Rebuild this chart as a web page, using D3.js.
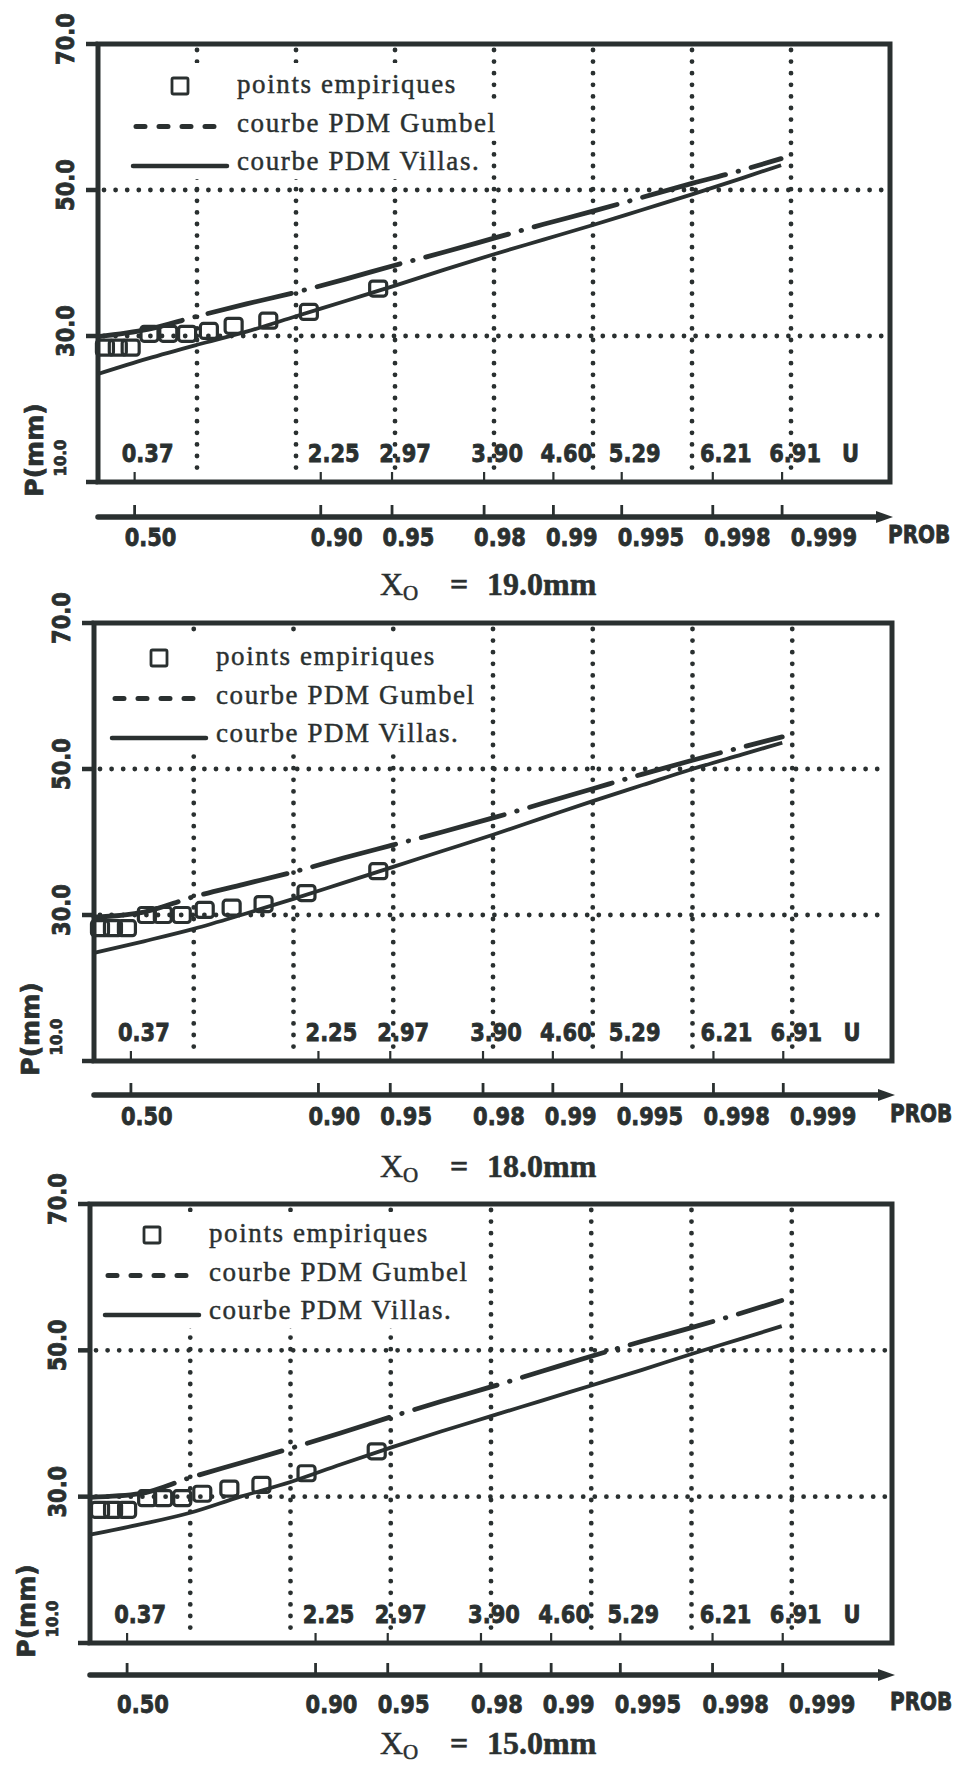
<!DOCTYPE html>
<html>
<head>
<meta charset="utf-8">
<script src="https://cdn.jsdelivr.net/npm/d3@7"></script>
<style>
    body { margin: 0; background: #fff; }
    svg { display: block; }
    .num { font-family: "DejaVu Sans", sans-serif; font-weight: bold; fill: #2a3030; stroke: #2a3030; stroke-width: 0.7px; }
    .leg { font-family: "Liberation Serif", "Times New Roman", serif; fill: #2a3030; stroke: #2a3030; stroke-width: 0.45px; }
    .ttl { font-family: "Liberation Serif", "Times New Roman", serif; fill: #2a3030; stroke: #2a3030; stroke-width: 0.5px; }
</style>
</head>
<body>
<div id="chart"></div>
<script>
const uGrid = [0, 0.5, 1, 1.5, 2, 2.5, 3, 3.5, 4, 4.5, 5, 5.5, 6, 6.5, 6.9];

// X0 = 19.0mm
const gumbel19 = [29.9, 30.9, 32.7, 34.4, 36.0, 37.8, 39.7, 41.5, 43.4, 45.3, 47.1, 49.0, 50.9, 52.7, 54.3];
const villas19 = [24.8, 26.9, 28.8, 30.6, 32.7, 34.8, 36.9, 39.1, 41.2, 43.2, 45.2, 47.3, 49.4, 51.6, 53.4];
const empU19 = [0.07, 0.20, 0.33, 0.52, 0.71, 0.90, 1.12, 1.37, 1.72, 2.13, 2.83];
const empP19 = [28.4, 28.4, 28.4, 30.3, 30.3, 30.3, 30.7, 31.4, 32.1, 33.3, 36.5];

// X0 = 18.0mm
const gumbel18 = [29.7, 30.4, 32.5, 34.2, 35.9, 37.8, 39.6, 41.4, 43.3, 45.3, 47.3, 49.3, 51.2, 53.0, 54.4];
const villas18 = [24.8, 26.4, 28.1, 30.1, 32.2, 34.4, 36.6, 38.8, 41.0, 43.3, 45.6, 47.8, 50.0, 52.0, 53.6];
const empU18 = [0.06, 0.19, 0.33, 0.53, 0.69, 0.88, 1.11, 1.38, 1.70, 2.13, 2.85];
const empP18 = [28.2, 28.2, 28.2, 30.0, 30.0, 30.0, 30.7, 31.0, 31.5, 33.0, 36.0];

// X0 = 15.0mm
const gumbel15 = [29.9, 30.4, 32.6, 34.6, 36.6, 38.7, 40.9, 43.0, 45.0, 47.1, 49.2, 51.2, 53.1, 55.1, 56.8];
const villas15 = [24.8, 26.2, 27.8, 30.0, 32.0, 34.4, 36.7, 38.9, 41.0, 43.1, 45.2, 47.3, 49.5, 51.6, 53.3];
const empU15 = [0.10, 0.23, 0.37, 0.57, 0.73, 0.92, 1.12, 1.39, 1.71, 2.16, 2.86];
const empP15 = [28.2, 28.2, 28.2, 29.8, 29.8, 29.8, 30.4, 31.1, 31.6, 33.2, 36.2];

const uTicks = [0.37, 2.25, 2.97, 3.90, 4.60, 5.29, 6.21, 6.91];
const uLabels = ["0.37", "2.25", "2.97", "3.90", "4.60", "5.29", "6.21", "6.91"];
const probLabels = ["0.50", "0.90", "0.95", "0.98", "0.99", "0.995", "0.998", "0.999"];
const uGridLines = [1, 2, 3, 4, 5, 6, 7];
const pGridLines = [30, 50];
const pTicks = [10, 30, 50, 70];
const legendLabels = ["points empiriques", "courbe PDM Gumbel", "courbe PDM Villas."];
const x0Values = ["19.0mm", "18.0mm", "15.0mm"];

const ink = "#2a3030";

// where each of the three stacked panels sits on the page
const frames = [
    {left: 98, right: 890, top: 44, bottom: 482, legX: 133, legY: 93, axisY: 517, probY: 546, titleY: 595},
    {left: 94, right: 892, top: 623, bottom: 1061, legX: 112, legY: 665, axisY: 1095, probY: 1125, titleY: 1177},
    {left: 90, right: 892, top: 1204, bottom: 1643, legX: 105, legY: 1242, axisY: 1675, probY: 1713, titleY: 1754}
];

let svg = d3.select("#chart")
    .append("svg")
    .attr("width", 960)
    .attr("height", 1765);

function stretched(sel, x, y) {
    // the plotter font is taller than DejaVu, so stretch it a bit
    return sel.attr("transform", `translate(${x},${y}) scale(1,1.22)`);
}

function drawPanel(f, gumbel, villas, empU, empP, x0) {
    let g = svg.append("g");
    let x = d3.scaleLinear().domain([0, 8]).range([f.left, f.right]);
    let y = d3.scaleLinear().domain([10, 70]).range([f.bottom, f.top]);

    // dotted grid
    g.selectAll(".vgrid")
        .data(uGridLines)
        .join("line")
        .attr("x1", d => x(d)).attr("x2", d => x(d))
        .attr("y1", y(70) + 6).attr("y2", y(10) - 4)
        .attr("stroke", ink)
        .attr("stroke-width", 4.8)
        .attr("stroke-linecap", "round")
        .attr("stroke-dasharray", "0,11.6");

    g.selectAll(".hgrid")
        .data(pGridLines)
        .join("line")
        .attr("x1", x(0) + 6).attr("x2", x(8) - 4)
        .attr("y1", d => y(d)).attr("y2", d => y(d))
        .attr("stroke", ink)
        .attr("stroke-width", 4.8)
        .attr("stroke-linecap", "round")
        .attr("stroke-dasharray", "0,11.6");

    // legend, each row on its own white band that hides the grid behind it
    let rows = g.append("g").selectAll("g")
        .data(legendLabels)
        .join("g")
        .attr("transform", (d, i) => `translate(0,${f.legY + i * 38.5})`);

    rows.append("text")
        .attr("class", "leg")
        .attr("x", f.legX + 104)
        .attr("y", 0)
        .attr("font-size", 27)
        .attr("letter-spacing", 1.6)
        .text(d => d);

    rows.each(function() {
        let row = d3.select(this);
        let len = row.select("text").node().getComputedTextLength();
        row.insert("rect", ":first-child")
            .attr("x", f.legX - 6)
            .attr("y", -30)
            .attr("width", 104 + len + 10)
            .attr("height", 39)
            .attr("fill", "#fff");
    });

    rows.filter((d, i) => i === 0)
        .append("rect")
        .attr("x", f.legX + 39).attr("y", -15)
        .attr("width", 16).attr("height", 16)
        .attr("rx", 1.5)
        .attr("fill", "none")
        .attr("stroke", ink)
        .attr("stroke-width", 2.8);

    rows.filter((d, i) => i === 1)
        .append("line")
        .attr("x1", f.legX + 3).attr("x2", f.legX + 94)
        .attr("y1", -5).attr("y2", -5)
        .attr("stroke", ink)
        .attr("stroke-width", 5)
        .attr("stroke-linecap", "round")
        .attr("stroke-dasharray", "9,14");

    rows.filter((d, i) => i === 2)
        .append("line")
        .attr("x1", f.legX).attr("x2", f.legX + 94)
        .attr("y1", -4).attr("y2", -4)
        .attr("stroke", ink)
        .attr("stroke-width", 4.5)
        .attr("stroke-linecap", "round");

    // U labels inside the frame
    g.selectAll(".ulab")
        .data(uTicks)
        .join("text")
        .attr("class", "num")
        .attr("font-size", 21)
        .attr("text-anchor", "middle")
        .each(function(d) { stretched(d3.select(this), x(d) + 13, f.bottom - 20); })
        .text((d, i) => uLabels[i]);

    stretched(g.append("text"), x(7.6), f.bottom - 20)
        .attr("class", "num")
        .attr("font-size", 21)
        .attr("text-anchor", "middle")
        .text("U");

    // PROB labels: start just left of the tick, pushed right when they would touch
    let prevEnd = -Infinity;
    g.selectAll(".plab")
        .data(uTicks)
        .join("text")
        .attr("class", "num")
        .attr("font-size", 21)
        .text((d, i) => probLabels[i])
        .each(function(d) {
            let len = this.getComputedTextLength();
            let start = Math.max(x(d) - 10, prevEnd + 20);
            prevEnd = start + len;
            stretched(d3.select(this), start, f.probY);
        });

    stretched(g.append("text"), x(8) - 2, f.probY - 3)
        .attr("class", "num")
        .attr("font-size", 20)
        .text("PROB");

    // small ticks on the frame bottom and on the PROB axis
    g.selectAll(".utick")
        .data(uTicks)
        .join("line")
        .attr("x1", d => x(d)).attr("x2", d => x(d))
        .attr("y1", f.bottom).attr("y2", f.bottom - 10)
        .attr("stroke", ink)
        .attr("stroke-width", 2.2);

    g.selectAll(".ptick")
        .data(uTicks)
        .join("line")
        .attr("x1", d => x(d)).attr("x2", d => x(d))
        .attr("y1", f.axisY).attr("y2", f.axisY - 12)
        .attr("stroke", ink)
        .attr("stroke-width", 2.8);

    g.append("line")
        .attr("x1", x(0)).attr("x2", x(8) - 8)
        .attr("y1", f.axisY).attr("y2", f.axisY)
        .attr("stroke", ink)
        .attr("stroke-width", 5.5)
        .attr("stroke-linecap", "round");

    g.append("path")
        .attr("d", `M${x(8) - 14},${f.axisY - 6}L${x(8) + 3},${f.axisY}L${x(8) - 14},${f.axisY + 6}Z`)
        .attr("fill", ink);

    // frame
    g.append("rect")
        .attr("x", x(0)).attr("y", y(70))
        .attr("width", x(8) - x(0))
        .attr("height", y(10) - y(70))
        .attr("fill", "none")
        .attr("stroke", ink)
        .attr("stroke-width", 5);

    g.selectAll(".ytick")
        .data(pTicks)
        .join("line")
        .attr("x1", x(0) - 12).attr("x2", x(0))
        .attr("y1", d => y(d)).attr("y2", d => y(d))
        .attr("stroke", ink)
        .attr("stroke-width", 4.5);

    g.selectAll(".ylab")
        .data(pTicks.filter(d => d > 10))
        .join("text")
        .attr("class", "num")
        .attr("font-size", 21)
        .attr("text-anchor", "middle")
        .attr("transform", d => `translate(${x(0) - 24},${y(d) - 5}) rotate(-90) scale(1,1.2)`)
        .text(d => d.toFixed(1));

    g.append("text")
        .attr("class", "num")
        .attr("font-size", 15)
        .attr("text-anchor", "middle")
        .attr("transform", `translate(${x(0) - 32},${y(10) - 24}) rotate(-90)`)
        .text(pTicks[0].toFixed(1));

    g.append("text")
        .attr("class", "num")
        .attr("font-size", 25)
        .attr("text-anchor", "middle")
        .attr("transform", `translate(${x(0) - 55},${y(10) - 32}) rotate(-90)`)
        .text("P(mm)");

    // fitted curves
    let line = d3.line()
        .x((d, i) => x(uGrid[i]))
        .y(d => y(d))
        .curve(d3.curveMonotoneX);

    g.append("path")
        .datum(gumbel)
        .attr("d", line)
        .attr("fill", "none")
        .attr("stroke", ink)
        .attr("stroke-width", 4.8)
        .attr("stroke-linecap", "round")
        .attr("stroke-dasharray", "86,13,0.5,13");

    g.append("path")
        .datum(villas)
        .attr("d", line)
        .attr("fill", "none")
        .attr("stroke", ink)
        .attr("stroke-width", 3.8);

    // empirical points
    g.selectAll(".emp")
        .data(empU)
        .join("rect")
        .attr("x", d => x(d) - 8.5)
        .attr("y", (d, i) => y(empP[i]) - 7.5)
        .attr("width", 17)
        .attr("height", 15)
        .attr("rx", 3)
        .attr("fill", "none")
        .attr("stroke", ink)
        .attr("stroke-width", 3.2);

    // title under the panel
    let t = g.append("text")
        .attr("class", "ttl")
        .attr("x", 380)
        .attr("y", f.titleY)
        .attr("font-size", 32);
    t.append("tspan").text("X");
    t.append("tspan").attr("font-size", 21).attr("dy", 5).text("O");
    t.append("tspan").attr("x", 450).attr("dy", -5).attr("font-weight", "bold").text("=");
    t.append("tspan").attr("x", 487).attr("font-weight", "bold").text(x0);
}

drawPanel(frames[0], gumbel19, villas19, empU19, empP19, x0Values[0]);
drawPanel(frames[1], gumbel18, villas18, empU18, empP18, x0Values[1]);
drawPanel(frames[2], gumbel15, villas15, empU15, empP15, x0Values[2]);
</script>
</body>
</html>
